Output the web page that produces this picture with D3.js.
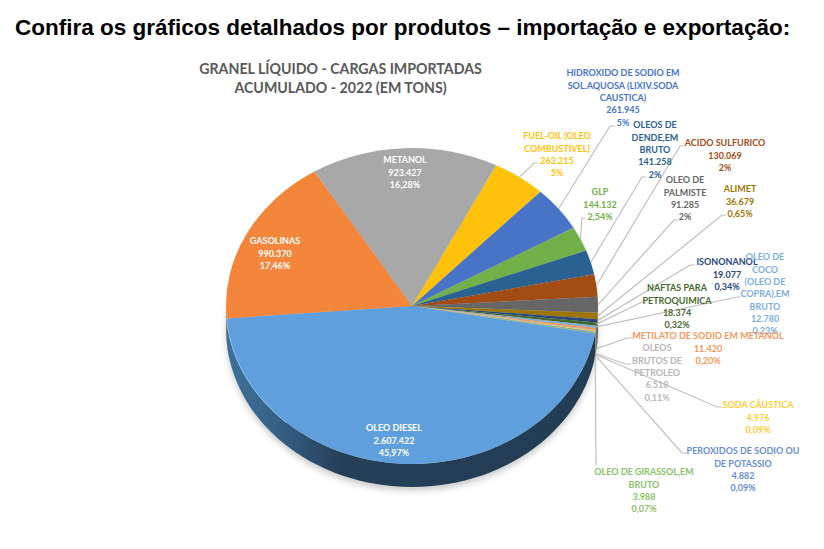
<!DOCTYPE html>
<html>
<head>
<meta charset="utf-8">
<script src="https://cdn.jsdelivr.net/npm/d3@7/dist/d3.min.js"></script>
<style>
  html, body { margin: 0; padding: 0; background: #fff; }
  svg { display: block; }
  text { font-family: Lato, "Open Sans", sans-serif; }
</style>
</head>
<body>
<svg id="chart" width="824" height="549"></svg>
<script>
// data
var products = [
	['OLEO DIESEL'],
	['GASOLINAS'],
	['METANOL'],
	['FUEL-OIL (OLEO', 'COMBUSTIVEL)'],
	['HIDROXIDO DE SODIO EM', 'SOL.AQUOSA (LIXIV.SODA', 'CAUSTICA)'],
	['GLP'],
	['OLEOS DE', 'DENDE,EM', 'BRUTO'],
	['ACIDO SULFURICO'],
	['OLEO DE', 'PALMISTE'],
	['ALIMET'],
	['ISONONANOL'],
	['NAFTAS PARA', 'PETROQUIMICA'],
	['OLEO DE', 'COCO', '(OLEO DE', 'COPRA),EM', 'BRUTO'],
	['METILATO DE SODIO EM METANOL'],
	['OLEOS', 'BRUTOS DE', 'PETROLEO'],
	['SODA CÁUSTICA'],
	['PEROXIDOS DE SODIO OU', 'DE POTASSIO'],
	['OLEO DE GIRASSOL,EM', 'BRUTO']
];
var tons = [2607422, 990370, 923427, 263215, 261945, 144132, 141258, 130069, 91285,
	36679, 19077, 18374, 12780, 11420, 6518, 4976, 4882, 3988];
var percents = ['45,97%', '17,46%', '16,28%', '5%', '5%', '2,54%', '2%', '2%', '2%',
	'0,65%', '0,34%', '0,32%', '0,23%', '0,20%', '0,11%', '0,09%', '0,09%', '0,07%'];

// styling and layout, same order as the data
var colors = ['#5f9fdd', '#f4863b', '#a8a8a8', '#ffc20a', '#4874c8', '#72b04a', '#2a6193',
	'#a24c14', '#666666', '#9c7604', '#28477f', '#45692d', '#7cafdd', '#f1975a',
	'#b7b7b7', '#ffcd33', '#698ed0', '#8cc168'];
var labelAt = [
	[394, 428], [275, 241], [405, 160], [557, 136], [623, 73], [600, 192], [655, 125],
	[725, 143], [685, 180], [740, 189], [727, 262], [677, 288], [765, 257], [708, 336],
	[657, 348], [758, 405], [743, 451], [644, 472]
];
// leader elbow and end, null when the label sits inside the slice
var leaders = [
	null, null, null,
	[[534, 163], [538, 163]], [[610, 126], [615, 126]], [[582, 218], [585, 218]],
	[[642, 177], [646, 177]], [[680, 146], [684, 146]], [[674, 220], [678, 220]],
	[[722, 215], [726, 215]], [[690, 265], [695, 265]], [[642, 302], [646, 302]],
	[[737, 297], [741, 297]], [[627, 338], [632, 338]], [[625, 364], [631, 364]],
	[[717, 407], [722, 407]], [[682, 453], [687, 453]], [[596, 465], [596, 465]]
];
// the last few leaders leave from the side wall, not the top face
var leaderDrop = [0, 0, 0, 0, 0, 0, 0, 0, 0, 0, 0, 0, 0, 20, 23, 23, 23, 23];

var CX = 412, CY = 306, RX = 186, RY = 158, DEPTH = 23;
var START = 100 * Math.PI / 180;
var LINE_H = 12.3;

var svg = d3.select('#chart');
var defs = svg.append('defs');

defs.append('filter').attr('id', 'soft')
	.attr('x', '-20%').attr('y', '-20%').attr('width', '140%').attr('height', '140%')
	.append('feGaussianBlur').attr('stdDeviation', 3);

var wallGrad = defs.append('linearGradient').attr('id', 'wall');
wallGrad.append('stop').attr('offset', '0%').attr('stop-color', '#3f709b');
wallGrad.append('stop').attr('offset', '14%').attr('stop-color', '#356085');
wallGrad.append('stop').attr('offset', '31%').attr('stop-color', '#243f58');
wallGrad.append('stop').attr('offset', '100%').attr('stop-color', '#223c54');

svg.append('text')
	.attr('x', 15).attr('y', 35)
	.style('font-family', '"Liberation Sans", Arial, sans-serif')
	.style('font-weight', 700).style('font-size', '22.5px').style('fill', '#000')
	.text('Confira os gráficos detalhados por produtos – importação e exportação:');

svg.selectAll('.chart-title')
	.data(['GRANEL LÍQUIDO - CARGAS IMPORTADAS', 'ACUMULADO - 2022 (EM TONS)'])
	.enter().append('text')
	.classed('chart-title', 1)
	.attr('x', 340.5)
	.attr('y', function (d, i) { return 74 + i * 19; })
	.attr('text-anchor', 'middle')
	.style('font-weight', 700).style('font-size', '14.2px').style('fill', '#595959')
	.text(function (d) { return d; });

var pie = d3.pie().sort(null).startAngle(START).endAngle(START + 2 * Math.PI);
var slices = pie(tons);

// point on the rim of the tilted pie, angle clockwise from 12 o'clock
function rim(angle, drop) {
	return [CX + RX * Math.sin(angle), CY - RY * Math.cos(angle) + (drop || 0)];
}

// soft shadow under the pie
svg.append('ellipse')
	.attr('cx', CX).attr('cy', CY + DEPTH + 4)
	.attr('rx', RX).attr('ry', RY)
	.attr('fill', '#000').attr('opacity', 0.2)
	.attr('filter', 'url(#soft)');

// side wall, only the part of each slice facing the viewer
var front = [Math.PI / 2, 3 * Math.PI / 2];
var wallLine = d3.line();
slices.forEach(function (d, i) {
	var a0 = Math.max(d.startAngle, front[0]),
		a1 = Math.min(d.endAngle, front[1]);
	var b0 = Math.max(d.startAngle - 2 * Math.PI, front[0]),
		b1 = Math.min(d.endAngle - 2 * Math.PI, front[1]);
	if (b1 > b0) { a0 = b0; a1 = b1; }
	if (a1 <= a0) return;
	var steps = d3.range(0, 61).map(function (k) { return a0 + (a1 - a0) * k / 60; });
	var top = steps.map(function (a) { return rim(a, 0); });
	var bottom = steps.slice().reverse().map(function (a) { return rim(a, DEPTH); });
	svg.append('path')
		.attr('d', wallLine(top.concat(bottom)) + 'Z')
		.attr('fill', i === 0 ? 'url(#wall)' : d3.rgb(colors[i]).darker(1.6));
});

// top face: a circular pie squashed to the ellipse
var arc = d3.arc().innerRadius(0).outerRadius(RX);
svg.append('g')
	.attr('transform', 'translate(' + CX + ',' + CY + ') scale(1,' + (RY / RX) + ')')
	.selectAll('path')
	.data(slices)
	.enter().append('path')
	.attr('d', arc)
	.attr('fill', function (d, i) { return colors[i]; });

// thin highlight on the lower left rim of the diesel slice
var diesel = slices[0];
var glint = d3.range(0, 41).map(function (k) {
	return rim(diesel.endAngle - 0.75 * k / 40, 0);
});
svg.append('path')
	.attr('d', wallLine(glint))
	.attr('fill', 'none')
	.attr('stroke', '#86c4f4')
	.attr('stroke-width', 1);

// leader lines
var leaderLine = d3.line();
slices.forEach(function (d, i) {
	if (!leaders[i]) return;
	var mid = (d.startAngle + d.endAngle) / 2;
	svg.append('path')
		.attr('d', leaderLine([rim(mid, leaderDrop[i])].concat(leaders[i])))
		.attr('fill', 'none')
		.attr('stroke', '#bfbfbf')
		.attr('stroke-width', 1.2);
});

// labels
var fmt = d3.formatLocale({ decimal: ',', thousands: '.', grouping: [3], currency: ['', ''] }).format(',d');
products.forEach(function (lines, i) {
	var all = lines.concat([fmt(tons[i]), percents[i]]);
	svg.append('g').selectAll('text')
		.data(all)
		.enter().append('text')
		.attr('x', labelAt[i][0])
		.attr('y', function (d, k) { return labelAt[i][1] + k * LINE_H + 3.3; })
		.attr('text-anchor', 'middle')
		.style('font-weight', 700)
		.style('font-size', '9px')
		.style('fill', i < 3 ? '#fff' : colors[i])
		.text(function (d) { return d; });
});
</script>
</body>
</html>
